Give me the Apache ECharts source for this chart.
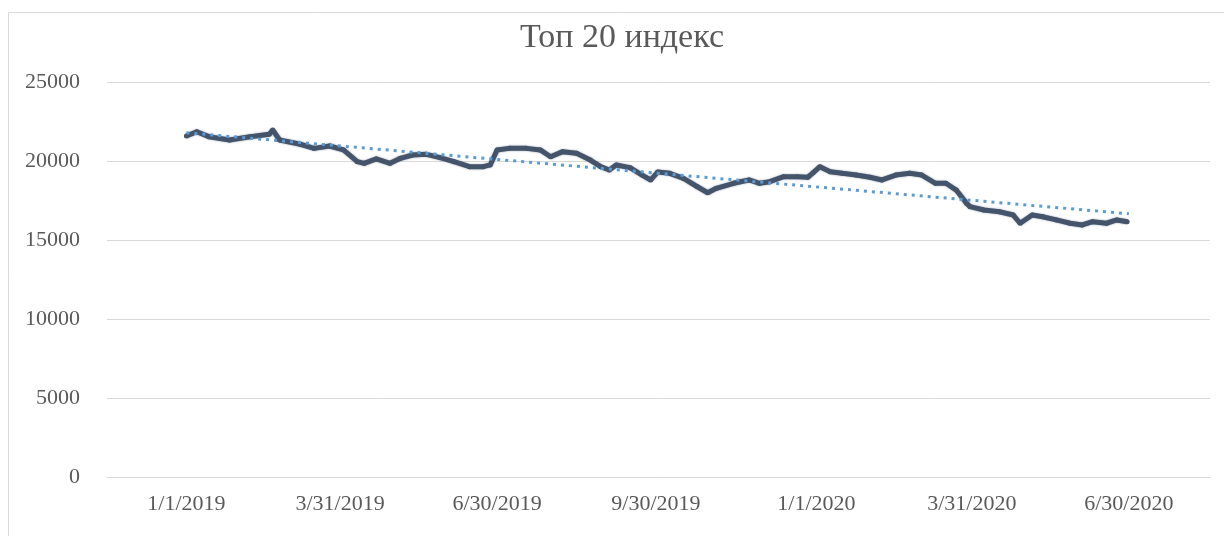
<!DOCTYPE html>
<html lang="mn">
<head>
    <meta charset="UTF-8">
    <title>Топ 20 индекс</title>
    <script src="https://cdn.jsdelivr.net/npm/echarts@6/dist/echarts.min.js"></script>
    <style>
        html, body { margin: 0; padding: 0; background: #fff; }
    </style>
</head>
<body>
<div style="width: 1224px; height: 536px" id="index-chart"></div>

<script type="text/javascript">
    // values (roughly weekly)
    var dates = [
        '2019-01-01', '2019-01-07', '2019-01-14', '2019-01-26', '2019-02-07', '2019-02-18',
        '2019-02-20', '2019-02-24', '2019-03-08', '2019-03-16', '2019-03-25', '2019-04-02',
        '2019-04-10', '2019-04-14', '2019-04-21', '2019-04-29', '2019-05-05', '2019-05-12',
        '2019-05-20', '2019-05-28', '2019-06-05', '2019-06-14', '2019-06-22', '2019-06-26',
        '2019-06-30', '2019-07-07', '2019-07-17', '2019-07-25', '2019-07-31', '2019-08-07',
        '2019-08-15', '2019-08-23', '2019-08-29', '2019-09-03', '2019-09-07', '2019-09-15',
        '2019-09-22', '2019-09-27', '2019-10-01', '2019-10-08', '2019-10-16', '2019-10-24',
        '2019-10-30', '2019-11-04', '2019-11-14', '2019-11-18', '2019-11-23', '2019-11-29',
        '2019-12-05', '2019-12-13', '2019-12-21', '2019-12-27', '2019-12-30', '2020-01-03',
        '2020-01-09', '2020-01-16', '2020-01-24', '2020-02-01', '2020-02-08', '2020-02-16',
        '2020-02-24', '2020-03-02', '2020-03-10', '2020-03-16', '2020-03-22', '2020-03-28',
        '2020-03-30', '2020-04-07', '2020-04-16', '2020-04-24', '2020-04-28', '2020-05-05',
        '2020-05-11', '2020-05-19', '2020-05-27', '2020-06-03', '2020-06-09', '2020-06-17',
        '2020-06-23', '2020-06-29'
    ];
    var values = [
        21580, 21850, 21540, 21330, 21540, 21690,
        21960, 21330, 21060, 20800, 20950, 20700,
        19960, 19850, 20130, 19850, 20170, 20380,
        20420, 20210, 19960, 19640, 19640, 19750,
        20700, 20800, 20800, 20700, 20270, 20590,
        20490, 20060, 19640, 19430, 19750, 19580,
        19110, 18800, 19300, 19220, 18900, 18370,
        17990, 18270, 18590, 18690, 18800, 18590,
        18690, 19010, 19010, 18970, 19250, 19640,
        19320, 19220, 19110, 18970, 18800, 19110,
        19220, 19110, 18590, 18590, 18160, 17320,
        17110, 16900, 16790, 16580, 16060, 16580,
        16470, 16270, 16060, 15950, 16160, 16060,
        16270, 16160
    ];
    // linear trend line, start and end
    var trendDates = ['2019-01-01', '2020-06-30'];
    var trendValues = [21790, 16660];

    var tickDates = ['2019-01-01', '2019-03-31', '2019-06-30', '2019-09-30', '2020-01-01', '2020-03-31', '2020-06-30'];
    var tickLabels = ['1/1/2019', '3/31/2019', '6/30/2019', '9/30/2019', '1/1/2020', '3/31/2020', '6/30/2020'];

    function toTime(d) {
        return +echarts.number.parseDate(d);
    }

    var tickTimes = tickDates.map(toTime);

    var seriesData = dates.map(function (d, i) {
        return [toTime(d), values[i]];
    });
    var trendData = trendDates.map(function (d, i) {
        return [toTime(d), trendValues[i]];
    });

    var myChart = echarts.init(document.getElementById('index-chart'));
    var font = '"Liberation Serif", "Times New Roman", serif';

    var option = {
        animation: false,
        graphic: [
            {
                type: 'rect',
                shape: { x: 8.5, y: 12.5, width: 1240, height: 540 },
                style: { fill: 'none', stroke: '#d9d9d9', lineWidth: 1 },
                silent: true
            },
            {
                type: 'text',
                x: 622,
                y: 38,
                style: {
                    text: 'Топ 20 индекс',
                    fill: '#595959',
                    font: '34px ' + font,
                    textAlign: 'center',
                    textVerticalAlign: 'middle'
                }
            }
        ],
        grid: {
            left: 107,
            right: 14,
            top: 82,
            bottom: 59
        },
        xAxis: {
            type: 'value',
            min: toTime('2018-11-16'),
            max: toTime('2020-08-16'),
            axisLine: { show: true, lineStyle: { color: '#d9d9d9', width: 1 } },
            axisTick: { show: false },
            splitLine: { show: false },
            axisLabel: {
                customValues: tickTimes,
                margin: 16,
                color: '#595959',
                fontFamily: font,
                fontSize: 22,
                formatter: function (val) {
                    var i = tickTimes.indexOf(+val);
                    return i >= 0 ? tickLabels[i] : '';
                }
            }
        },
        yAxis: {
            type: 'value',
            min: 0,
            max: 25000,
            interval: 5000,
            axisLine: { show: false },
            axisTick: { show: false },
            splitLine: { lineStyle: { color: '#d9d9d9', width: 1 } },
            axisLabel: {
                margin: 27,
                color: '#595959',
                fontFamily: font,
                fontSize: 22,
                formatter: function (val) {
                    return String(val);
                }
            }
        },
        series: [
            {
                name: 'Топ 20',
                type: 'line',
                data: seriesData,
                symbol: 'circle',
                symbolSize: 5,
                itemStyle: { color: '#44546a' },
                lineStyle: {
                    color: '#44546a',
                    width: 5,
                    shadowBlur: 2,
                    shadowColor: 'rgba(68, 84, 106, 0.6)'
                },
                z: 2
            },
            {
                name: 'Trend',
                type: 'line',
                data: trendData,
                symbol: 'none',
                lineStyle: {
                    color: '#5b9bd5',
                    width: 3,
                    type: [3, 5]
                },
                z: 3
            }
        ]
    };

    myChart.setOption(option);
</script>
</body>
</html>
